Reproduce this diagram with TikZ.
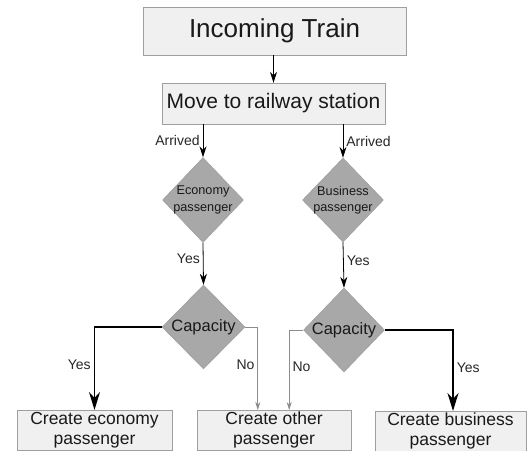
\documentclass[tikz,border=0pt]{standalone}
\usepackage{fontspec}
\setmainfont{Liberation Sans}
\usetikzlibrary{shapes.geometric,arrows.meta}

\tikzset{
  box/.style={draw=gray!75, fill=gray!12, inner sep=0pt, align=center, text=black!90},
  decision/.style={diamond, draw=gray!80, fill=gray!68, inner sep=0pt, align=center, text=black!90},
  flow/.style={line width=0.8pt, -{Stealth[length=11pt,width=7pt]}},
  yesflow/.style={line width=1.7pt, -{Stealth[length=18pt,width=11pt]}},
  noflow/.style={draw=gray!90, line width=0.8pt, -{Stealth[length=8pt,width=5pt]}},
  tag/.style={font=\fontsize{14}{16}\selectfont, inner sep=3pt, text=black!85}
}

\begin{document}
\begin{tikzpicture}[x=1pt, y=-1pt]
  \useasboundingbox (0,0) rectangle (527,450);
  % top boxes
  \node[box, minimum width=263pt, minimum height=48pt, font=\fontsize{26}{30}\selectfont] (train) at (274.5,31) {Incoming Train};
  \node[box, minimum width=223pt, minimum height=41pt, font=\fontsize{21}{25}\selectfont] (move) at (273.5,103.5) {Move to railway station};
  % decisions
  \node[decision, minimum width=81pt, minimum height=85pt,
        label={[font=\fontsize{12.7}{16.5}\selectfont, align=center, text=black!90]center:Economy\\passenger}] (eco) at (203,200) {};
  \node[decision, minimum width=81pt, minimum height=84pt,
        label={[font=\fontsize{12.7}{16.5}\selectfont, align=center, text=black!90]center:Business\\passenger}] (bus) at (343,200) {};
  \node[decision, minimum width=83pt, minimum height=84pt, font=\fontsize{16.5}{20}\selectfont] (capL) at (203.5,327) {Capacity};
  \node[decision, minimum width=81pt, minimum height=84pt, font=\fontsize{16.5}{20}\selectfont] (capR) at (344,330) {Capacity};
  % results
  \node[box, anchor=north, minimum width=155pt, minimum height=40pt, font=\fontsize{17.5}{20}\selectfont] (ecobox) at (94.5,410) {Create economy\\passenger};
  \node[box, anchor=north, minimum width=154pt, minimum height=40pt, font=\fontsize{17.5}{20}\selectfont] (other) at (274,410) {Create other\\passenger};
  \node[box, anchor=north, minimum width=151pt, minimum height=40pt, font=\fontsize{17.5}{20}\selectfont] (busbox) at (450.5,411) {Create business\\passenger};

  \draw[flow] (train.south -| move.north) -- (move.north);
  \draw[flow] (move.south -| eco.north) -- node[tag, left] {Arrived} (eco.north);
  \draw[flow] (move.south -| bus.north) -- node[tag, right] {Arrived} (bus.north);
  \draw[flow] (eco.south) -- node[tag, left, pos=0.37] {Yes} (capL.north);
  \draw[flow] (bus.south) -- node[tag, right, pos=0.4] {Yes} (capR.north);
  \draw[yesflow] (capL.west) -| node[tag, left, pos=0.73] {Yes} (ecobox.north);
  \draw[noflow] (capL.east) -| node[tag, left, pos=0.73] {No} ([xshift=61pt]other.north west);
  \draw[noflow] (capR.west) -| node[tag, right, pos=0.73] {No} ([xshift=-62pt]other.north east);
  \draw[yesflow] (capR.east) -| node[tag, right, pos=0.73] {Yes} ([xshift=2.5pt]busbox.north);
\end{tikzpicture}
\end{document}
